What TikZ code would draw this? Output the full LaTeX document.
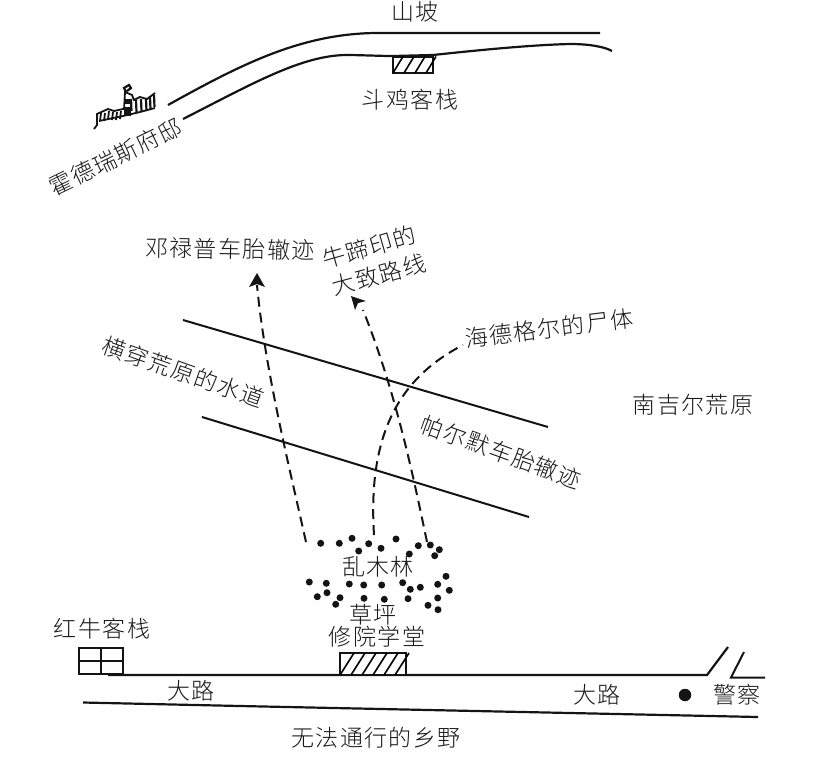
\documentclass[tikz,border=0pt]{standalone}
\usepackage{fontspec}
\setmainfont{Noto Sans CJK SC}[UprightFont=* Light,LetterSpace=6]
\tikzset{
  lbl/.style={inner sep=0pt,font=\fontsize{23}{23}\selectfont,text=black!90},
  road/.style={line width=2.2pt,black!92},
  thin/.style={line width=2pt,black!92},
  track/.style={line width=2pt,dash pattern=on 10pt off 6pt,black!92},
  tip/.style={fill=black!92},
  dot/.style={circle,fill=black!92,minimum size=7pt,inner sep=0pt}
}
\begin{document}
\begin{tikzpicture}[x=1pt,y=-1pt]
\useasboundingbox (0,0) rectangle (822,761);
% top road
\draw[road] (168,105) .. controls (240,65) and (300,34) .. (375,33) -- (600,33);
\draw[road] (183,119) .. controls (250,85) and (300,56) .. (345,55) .. controls (360,55) and (380,56) .. (393,56) -- (433,55) .. controls (480,50) and (530,45) .. (570,44) .. controls (590,44) and (605,47) .. (612,51);
% inn
\draw[thin] (393,56.5) rectangle (433,73);
\foreach \x in {396,407,418,429} \draw[line width=1.6pt] (\x-3,73) -- (\x+7,56.5);
% castle
\begin{scope}[black!92,line width=1.8pt]
\draw (94,129) -- (97,125) -- (97,114) -- (108,109) -- (114,111) -- (123,109);
\draw (99,121) -- (123,116) -- (140,112) -- (155,108);
\draw[line width=2.2pt] (126,92) -- (124,88) -- (129,85) -- (131,88) -- (127,91);
\draw (124,110) -- (125,92) -- (132,95) -- (134,100) -- (140,97) -- (147,99) -- (155,93);
\foreach \x/\y in {101/113,105/113,109/111,113/112,117/112,121/111}
  \draw (\x,\y) -- (\x-1,\y+8);
\foreach \x/\y in {131/99,136/100,141/99,146/99,150/97,154/95}
  \draw[line width=2.2pt] (\x,\y) -- (\x+.5,\y+12);
\fill (124,99) rectangle (131,104);
\fill (124,107) rectangle (131,116);
\end{scope}
% labels
\node[lbl] (slope) at (415,12) {山坡};
\node[lbl] (cockinn) at (410,100) {斗鸡客栈};
\node[lbl,rotate=26] (hall) at (115.5,157) {霍德瑞斯府邸};
\node[lbl,rotate=-1] (dunlop) at (230,249) {邓禄普车胎辙迹};
\node[lbl,rotate=16] (cow1) at (369,247) {牛蹄印的};
\node[lbl,rotate=15] (cow2) at (379,275) {大致路线};
\node[lbl,rotate=7] (corpse) at (549,328) {海德格尔的尸体};
\node[lbl,rotate=-19.5] (water) at (183.5,372) {横穿荒原的水道};
\node[lbl] (moor) at (693,405) {南吉尔荒原};
\node[lbl,rotate=-20] (palmer) at (501,452) {帕尔默车胎辙迹};
\node[lbl] (copse) at (378,567) {乱木林};
\node[lbl] (lawn) at (373,615) {草坪};
\node[lbl] (school) at (377,637) {修院学堂};
\node[lbl] (redbull) at (102,629) {红牛客栈};
\node[lbl] (road1) at (191,691) {大路};
\node[lbl] (road2) at (597,695) {大路};
\node[lbl] (police) at (737,695) {警察};
\node[lbl] (fields) at (376,738) {无法通行的乡野};
% water channel
\draw[thin] (183,320) -- (548,427);
\draw[thin] (202,417) -- (529,517);
% tracks
\coordinate (t1a) at (306,542); \coordinate (t1b) at (257,285);
\coordinate (t2a) at (374,535); \coordinate (t2b) at (463,345);
\coordinate (t3a) at (427,542); \coordinate (t3b) at (363,310);
\draw[track] (t1a) .. controls (290,470) and (265,370) .. (t1b);
\fill[tip] (257,273) -- (265,287) -- (257,284) -- (249,287) -- cycle;
\draw[track] (t2a) .. controls (368,440) and (395,380) .. (t2b);
\draw[track] (t3a) .. controls (412,470) and (395,390) .. (t3b);
\fill[tip] (351,296) -- (366,301) -- (358,303) -- (355,310) -- cycle;
% dots
\foreach \p in {(320.7,543.3),(339.3,543.3),(352,538.3),(368.7,543.7),(358.7,551),(381,548.3),(396,539),(409.3,554),(418.3,545.7),(430.3,545),(439.3,549.7),(434.7,555.7),(309.3,582),(326.3,583.3),(327,592.7),(317.3,596.7),(340,597.7),(335.7,604.3),(349.3,584),(363.7,585),(381.7,585),(364,598.3),(384.3,599.3),(402.7,582.7),(410.3,589.3),(420.3,587.3),(408,598.7),(437.7,584.3),(446,576.3),(449.3,590.3),(437.7,598),(428,605.3),(438,609.7)}
  \node[dot] at \p {};
% main road
\coordinate (rs) at (108,675);
\coordinate (rb) at (707,675);
\coordinate (re) at (728,647);
\draw[road] (rs) -- (rb) -- (re);
\draw[thin] (744,652) -- (731,677.5) -- (765,677.5);
\draw[road] (83,702.5) -- (240,706) -- (758,717);
\draw[thin] (78.5,647.5) rectangle (122.5,674);
\draw[thin] (100.5,647.5) -- (100.5,674) (78.5,660.5) -- (122.5,660.5);
\draw[thin,fill=white] (339.5,652.5) rectangle (405.5,675);
\foreach \x in {345,356,367,378,389,400} \draw[line width=1.6pt] (\x-5,675) -- (\x+9,653);
\node[dot,minimum size=12.5pt] (station) at (685,695) {};
\end{tikzpicture}
\end{document}
